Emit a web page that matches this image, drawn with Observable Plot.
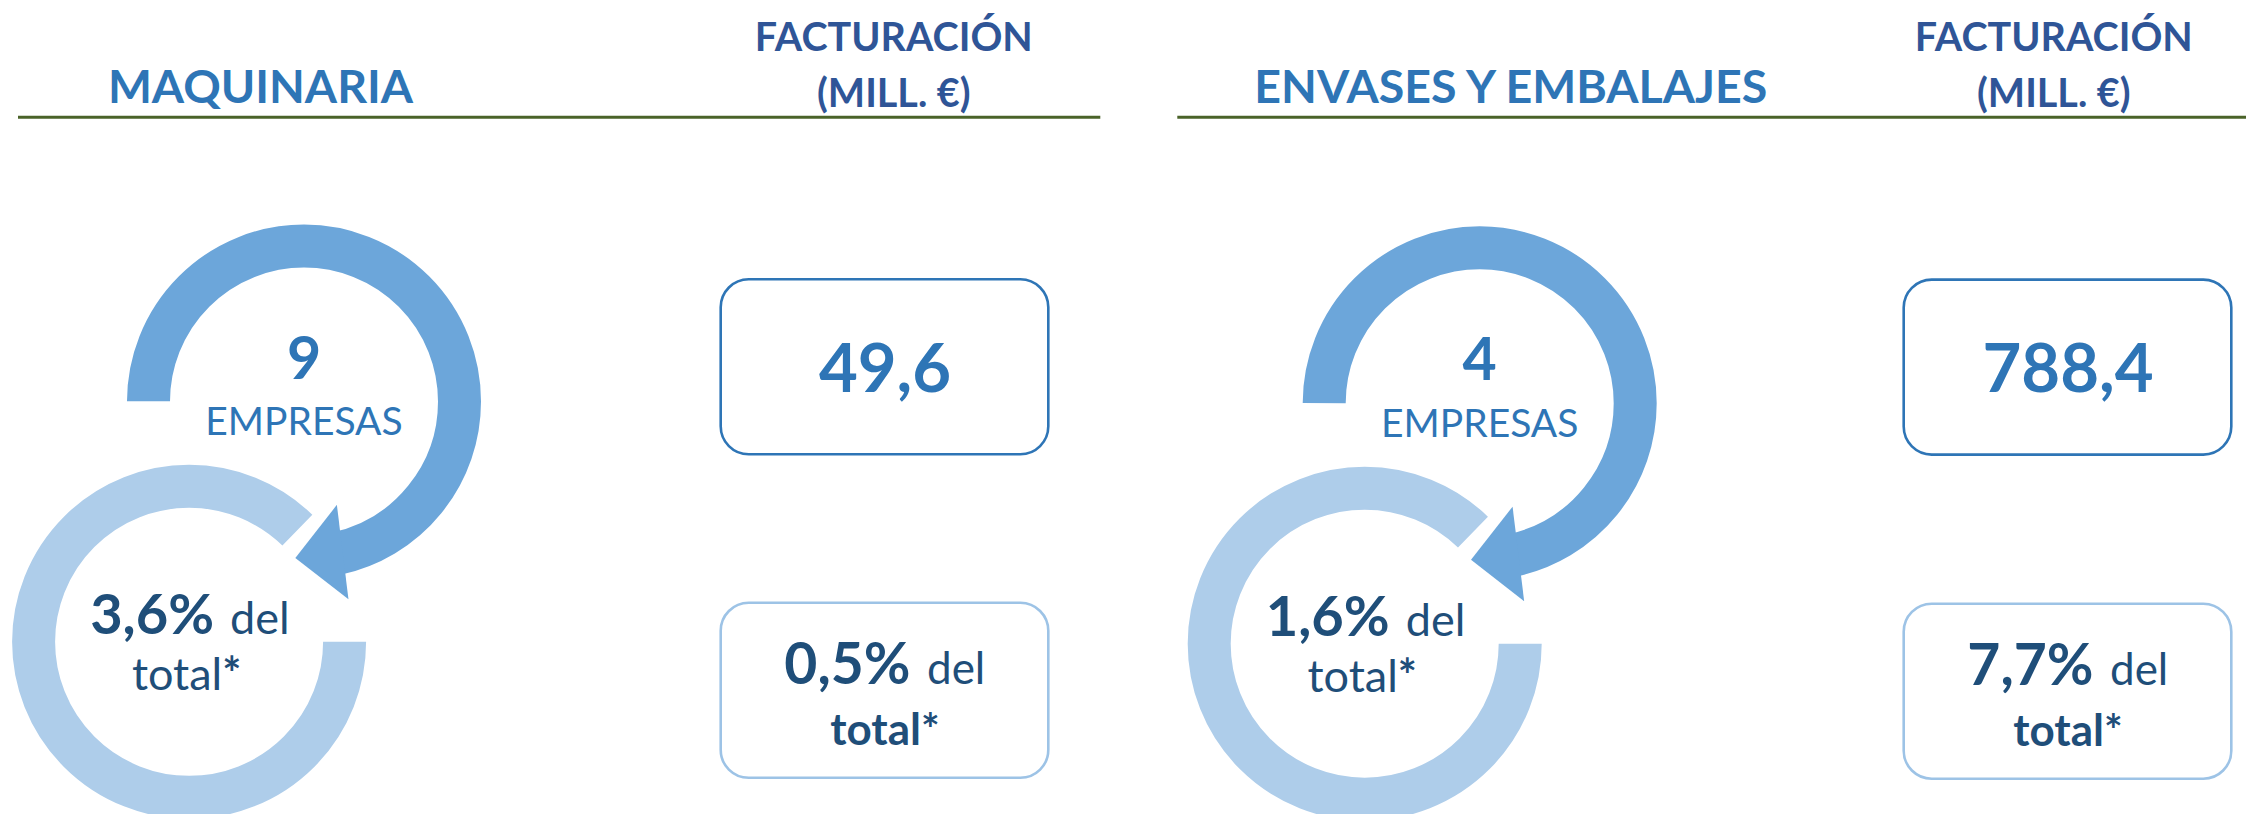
<!DOCTYPE html>
<html>
<head>
<meta charset="utf-8">
<script src="https://cdn.jsdelivr.net/npm/d3@7"></script>
<script src="https://cdn.jsdelivr.net/npm/@observablehq/plot@0.6"></script>
<style>
  html, body { margin: 0; padding: 0; background: #fff; }
  #chart svg { display: block; }
</style>
</head>
<body>
<div id="chart"></div>
<script>
// ---------------- DATA ----------------
const sectores = ["MAQUINARIA", "ENVASES Y EMBALAJES"];
const empresas = [9, 4];
const facturacion = [49.6, 788.4];          // millones de €
const pctEmpresas = [3.6, 1.6];             // % del total de empresas
const pctFacturacion = [0.5, 7.7];          // % del total de facturación
const headerLines = ["FACTURACIÓN", "(MILL. €)"];
const empresasLabel = "EMPRESAS";
const delLabel = "del";
const totalLabel = "total*";

// ---------------- LAYOUT (pixels) ----------------
const W = 2246, H = 814;
const ringTopX = [303.5, 1479.2], ringTopY = [401, 402.8];
const ringBotX = [188.6, 1364.2], ringBotY = [641.3, 643.2];
const boxCX = [884.5, 2067.5], boxTop1 = [279.3, 279.6], boxTop2 = [602.8, 603.7];
const titleX = [260, 1510.3], headerX = [893.3, 2053.3];
const ruleX1 = [18, 1177.3], ruleX2 = [1100.3, 2246];
const ruleYpos = 116.7, titleBase = 102.3, headerBase = [50, 106.7];
const boxHalfW = 163.8, boxH = 175, boxR = 28;
const rMid = 155.5, ringW = 43;
const arrowAngle = 75.6, arrowRotate = -7, arrowLen = 47.7, arrowHalf = 47.6;

const C = {
  title: "#2E75B6", header: "#2F5597", rule: "#4A6329",
  dark: "#6CA6DA", light: "#AECDEA", num: "#2E75B6", navy: "#1F4E79",
  box1: "#2E75B6", box2: "#9DC3E6"
};
const font = "Lato, 'Open Sans', sans-serif";
const fmt = v => d3.format(".1f")(v).replace(".", ",");

const panels = sectores.map((s, i) => ({
  sector: s, empresas: empresas[i], facturacion: facturacion[i],
  pctEmp: pctEmpresas[i], pctFac: pctFacturacion[i],
  tx: ringTopX[i], ty: ringTopY[i], bx: ringBotX[i], by: ringBotY[i],
  cx: boxCX[i], top1: boxTop1[i], top2: boxTop2[i],
  titleX: titleX[i], headerX: headerX[i], ruleX1: ruleX1[i], ruleX2: ruleX2[i]
}));
const headerRows = panels.flatMap(p => headerLines.map((t, j) => ({x: p.headerX, y: headerBase[j], t})));

const L = 2 * Math.PI * rMid;
const deg = a => L * a / 360;
const lightDash = `${deg(314)} ${deg(46)}`;
const darkDash = `${deg(78)} ${deg(102)} ${deg(180)}`;
const rad = arrowAngle * Math.PI / 180;

const arrowSymbol = {
  draw(ctx) {
    ctx.moveTo(-arrowLen, 0);
    ctx.lineTo(0, -arrowHalf);
    ctx.lineTo(0, arrowHalf);
    ctx.closePath();
  }
};

const chart = Plot.plot({
  width: W, height: H, margin: 0,
  x: {type: "linear", domain: [0, W], range: [0, W], axis: null},
  y: {type: "linear", domain: [0, H], range: [0, H], axis: null},
  style: {background: "white", fontFamily: font, overflow: "visible"},
  marks: [
    // header rules
    Plot.ruleY(panels, {y: () => ruleYpos, x1: "ruleX1", x2: "ruleX2", stroke: C.rule, strokeWidth: 3}),
    // section titles
    Plot.text(panels, {x: "titleX", y: () => titleBase, text: "sector", lineAnchor: "bottom",
      fontSize: 46.5, fontWeight: 700, fill: C.title}),
    Plot.text(headerRows, {x: "x", y: "y", text: "t", lineAnchor: "bottom",
      fontSize: 39.5, fontWeight: 700, fill: C.header}),
    // rings
    Plot.dot(panels, {x: "bx", y: "by", r: rMid, stroke: C.light, strokeWidth: ringW, fill: "none",
      strokeDasharray: lightDash}),
    Plot.dot(panels, {x: "tx", y: "ty", r: rMid, stroke: C.dark, strokeWidth: ringW, fill: "none",
      strokeDasharray: darkDash}),
    Plot.dot(panels, {x: d => d.tx + rMid * Math.cos(rad), y: d => d.ty + rMid * Math.sin(rad),
      symbol: arrowSymbol, r: 10, fill: C.dark, stroke: "none", rotate: arrowRotate}),
    // ring texts
    Plot.text(panels, {x: "tx", y: d => d.ty - 23, text: d => String(d.empresas), lineAnchor: "bottom",
      fontSize: 59, fontWeight: 700, fill: C.num}),
    Plot.text(panels, {x: "tx", y: d => d.ty + 33.5, text: () => empresasLabel, lineAnchor: "bottom",
      fontSize: 39, fontWeight: 400, fill: C.num}),
    Plot.text(panels, {x: d => d.bx + 25, y: d => d.by - 7.6, text: d => fmt(d.pctEmp) + "%", lineAnchor: "bottom",
      textAnchor: "end", fontSize: 56, fontWeight: 700, fill: C.navy}),
    Plot.text(panels, {x: d => d.bx + 41, y: d => d.by - 7.6, text: () => delLabel, lineAnchor: "bottom",
      textAnchor: "start", fontSize: 45, fontWeight: 400, fill: C.navy}),
    Plot.text(panels, {x: d => d.bx - 2.5, y: d => d.by + 48.5, text: () => totalLabel, lineAnchor: "bottom",
      fontSize: 45, fontWeight: 400, fill: C.navy, className: "ring-total"}),
    // boxes
    Plot.rect(panels, {x1: d => d.cx - boxHalfW, x2: d => d.cx + boxHalfW, y1: "top1", y2: d => d.top1 + boxH,
      rx: boxR, fill: "none", stroke: C.box1, strokeWidth: 2.6}),
    Plot.rect(panels, {x1: d => d.cx - boxHalfW, x2: d => d.cx + boxHalfW, y1: "top2", y2: d => d.top2 + boxH,
      rx: boxR, fill: "none", stroke: C.box2, strokeWidth: 2.6}),
    Plot.text(panels, {x: "cx", y: d => d.top1 + 112, text: d => fmt(d.facturacion), lineAnchor: "bottom",
      fontSize: 67, fontWeight: 700, fill: C.num}),
    Plot.text(panels, {x: d => d.cx + 25.5, y: d => d.top2 + 80.3, text: d => fmt(d.pctFac) + "%", lineAnchor: "bottom",
      textAnchor: "end", fontSize: 57, fontWeight: 700, fill: C.navy}),
    Plot.text(panels, {x: d => d.cx + 42, y: d => d.top2 + 80.3, text: () => delLabel, lineAnchor: "bottom",
      textAnchor: "start", fontSize: 44, fontWeight: 400, fill: C.navy}),
    Plot.text(panels, {x: "cx", y: d => d.top2 + 142, text: () => totalLabel, lineAnchor: "bottom",
      fontSize: 44, fontWeight: 700, fill: C.navy})
  ]
});

// make the asterisk of the in-ring "total*" bold, as in the original
d3.select(chart).selectAll("text").each(function () {
  const g = this.parentNode;
  if (this.textContent === totalLabel && g && g.getAttribute("font-weight") === "400") {
    const base = totalLabel.slice(0, -1);
    this.textContent = base;
    d3.select(this).append("tspan").attr("font-weight", 700).text("*");
  }
});

document.getElementById("chart").appendChild(chart);
</script>
</body>
</html>
